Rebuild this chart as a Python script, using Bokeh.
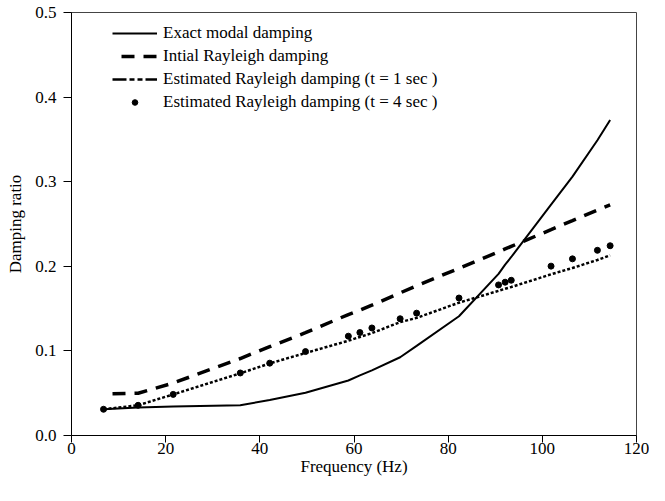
from bokeh.plotting import figure
from bokeh.models import Range1d, FixedTicker, PrintfTickFormatter, Legend, LegendItem, ColumnDataSource
from bokeh.embed import file_html
from bokeh.resources import INLINE

# ---- data ----
freq = [6.8, 14.15, 21.6, 35.85, 42.1, 49.7, 58.8, 61.25, 63.8, 69.8, 73.3,
        82.3, 90.7, 92.1, 93.4, 101.85, 106.4, 111.7, 114.4]
exact = [0.031, 0.033, 0.0343, 0.0357, 0.042, 0.0505, 0.065, 0.071, 0.077, 0.0925, 0.106,
         0.141, 0.191, 0.202, 0.211, 0.273, 0.306, 0.349, 0.373]
initial = [0.049, 0.050, 0.062, 0.091, 0.105, 0.1215, 0.143, 0.148, 0.154, 0.1686, 0.177,
           0.1976, 0.217, 0.2205, 0.2236, 0.2433, 0.254, 0.2665, 0.2725]
est_t1 = [0.031, 0.0357, 0.0486, 0.0735, 0.0852, 0.0975, 0.112, 0.1165, 0.121, 0.134, 0.139,
          0.157, 0.171, 0.1735, 0.1755, 0.1905, 0.198, 0.2075, 0.213]
est_t4 = [0.031, 0.0357, 0.0486, 0.0739, 0.0855, 0.0992, 0.1174, 0.1217, 0.1271, 0.138, 0.1446,
          0.1625, 0.178, 0.1812, 0.1835, 0.2002, 0.2088, 0.2189, 0.2243]

x_ticks = [0, 20, 40, 60, 80, 100, 120]
y_ticks = [0.0, 0.1, 0.2, 0.3, 0.4, 0.5]
legend_labels = ["Exact modal damping",
                 "Intial Rayleigh damping",
                 "Estimated Rayleigh damping (t = 1 sec )",
                 "Estimated Rayleigh damping (t = 4 sec )"]
x_title = "Frequency (Hz)"
y_title = "Damping ratio"

FONT = "Liberation Serif"

p = figure(width=649, height=485, output_backend="svg", toolbar_location=None,
           x_range=Range1d(0, 120), y_range=Range1d(0, 0.5),
           min_border_left=71, min_border_right=13, min_border_top=12, min_border_bottom=50,
           x_axis_label=x_title, y_axis_label=y_title)

p.background_fill_color = "white"
p.border_fill_color = "white"
p.outline_line_color = "#444444"
p.outline_line_width = 1
p.xgrid.visible = False
p.ygrid.visible = False

for ax in (p.xaxis[0], p.yaxis[0]):
    ax.axis_line_color = "black"
    ax.axis_line_width = 1
    ax.major_tick_in = 0
    ax.major_tick_line_color = "black"
    ax.minor_tick_line_color = None
    ax.major_label_text_font = FONT
    ax.major_label_text_font_size = "17px"
    ax.major_label_text_color = "black"
    ax.axis_label_text_font = FONT
    ax.axis_label_text_font_size = "17px"
    ax.axis_label_text_font_style = "normal"
    ax.axis_label_text_color = "black"

p.xaxis[0].ticker = FixedTicker(ticks=x_ticks)
p.yaxis[0].ticker = FixedTicker(ticks=y_ticks)
p.yaxis[0].formatter = PrintfTickFormatter(format="%.1f")
p.xaxis[0].major_tick_out = 7
p.yaxis[0].major_tick_out = 8
p.xaxis[0].major_label_standoff = 0
p.xaxis[0].axis_label_standoff = 0
p.yaxis[0].major_label_standoff = 7
p.yaxis[0].axis_label_standoff = 7

src = ColumnDataSource(dict(f=freq, exact=exact, initial=initial, t1=est_t1, t4=est_t4))

r_exact = p.line("f", "exact", source=src, line_color="black", line_width=2)
r_init = p.line("f", "initial", source=src, line_color="black", line_width=3.5,
                line_dash="13 9", line_dash_offset=13)
r_t1 = p.line("f", "t1", source=src, line_color="black", line_width=2.5, line_dash="3 2")
r_t4 = p.scatter("f", "t4", source=src, size=6, fill_color="black", line_color="black")

# hidden twin of the t = 1 sec line, only used to draw its dash-dot-dot legend sample
r_t1_leg = p.line("f", "t1", source=src, line_color="black", line_width=2.5,
                  line_dash="14 3 5 3 5 3", visible=False)

legend = Legend(items=[LegendItem(label=legend_labels[0], renderers=[r_exact]),
                       LegendItem(label=legend_labels[1], renderers=[r_init]),
                       LegendItem(label=legend_labels[2], renderers=[r_t1_leg]),
                       LegendItem(label=legend_labels[3], renderers=[r_t4])],
                location=(41, 323))
legend.border_line_color = None
legend.background_fill_alpha = 0
legend.inactive_fill_alpha = 0
legend.padding = 0
legend.margin = 0
legend.spacing = 3
legend.glyph_width = 45
legend.glyph_height = 14
legend.label_height = 14
legend.label_standoff = 6
legend.label_text_font = FONT
legend.label_text_font_size = "17px"
legend.label_text_color = "black"
p.add_layout(legend)

open("out.html", "w").write(file_html(p, INLINE))
